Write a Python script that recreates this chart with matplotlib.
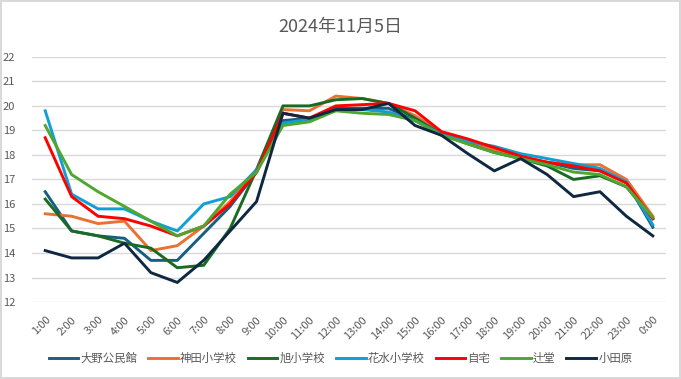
import numpy as np
import matplotlib.pyplot as plt

plt.rcParams['font.family'] = ['Noto Sans CJK JP', 'DejaVu Sans']

hours = [f"{h}:00" for h in range(1, 24)] + ["0:00"]

oono = [16.5, 14.9, 14.7, 14.6, 13.7, 13.7, 14.8, 15.9, 17.3, 19.4, 19.5, 19.9,
        19.9, 19.9, 19.4, 18.85, 18.5, 18.2, 17.9, 17.7, 17.45, 17.35, 16.9, 15.05]
kanda = [15.6, 15.5, 15.2, 15.3, 14.1, 14.3, 15.1, 16.1, 17.4, 19.85, 19.8, 20.4,
         20.3, 20.1, 19.6, 18.9, 18.5, 18.2, 17.9, 17.7, 17.6, 17.6, 17.0, 15.5]
asahi = [16.2, 14.9, 14.7, 14.4, 14.2, 13.4, 13.5, 15.0, 17.4, 20.0, 20.0, 20.25,
         20.3, 20.1, 19.5, 18.85, 18.45, 18.1, 17.85, 17.55, 17.0, 17.15, 16.7, 15.4]
hanamizu = [19.8, 16.4, 15.8, 15.8, 15.3, 14.9, 16.0, 16.3, 17.4, 19.3, 19.45, 19.85,
            19.85, 19.75, 19.4, 18.85, 18.55, 18.35, 18.05, 17.85, 17.65, 17.45, 16.9, 15.15]
jitaku = [18.7, 16.3, 15.5, 15.4, 15.1, 14.7, 15.1, 16.0, 17.3, 19.7, 19.5, 20.0,
          20.05, 20.1, 19.8, 18.95, 18.65, 18.3, 17.95, 17.7, 17.55, 17.35, 16.85, 15.4]
tsujido = [19.2, 17.2, 16.5, 15.9, 15.3, 14.7, 15.1, 16.4, 17.3, 19.2, 19.35, 19.8,
           19.7, 19.65, 19.4, 18.8, 18.45, 18.1, 17.85, 17.6, 17.3, 17.2, 16.7, 15.45]
odawara = [14.1, 13.8, 13.8, 14.4, 13.2, 12.8, 13.7, 14.9, 16.1, 19.7, 19.5, 19.85,
           19.85, 20.1, 19.2, 18.8, 18.05, 17.35, 17.85, 17.2, 16.3, 16.5, 15.5, 14.7]

series = [
    ("大野公民館", oono, "#156082"),
    ("神田小学校", kanda, "#E97132"),
    ("旭小学校", asahi, "#196B24"),
    ("花水小学校", hanamizu, "#0F9ED5"),
    ("自宅", jitaku, "#FF0000"),
    ("辻堂", tsujido, "#4EA72E"),
    ("小田原", odawara, "#0E2841"),
]

txt = "#595959"
fig = plt.figure(figsize=(6.81, 3.79), dpi=100)
fig.patch.set_edgecolor("#D9D9D9")
fig.patch.set_linewidth(1.5)
ax = fig.add_axes([0.047, 0.203, 0.931, 0.647])

x = np.arange(len(hours))
for name, vals, col in series:
    ax.plot(x, vals, color=col, lw=2.1, label=name, solid_joinstyle="round")

ax.set_xlim(-0.5, len(hours) - 0.5)
ax.set_ylim(12, 22)
ax.set_yticks(range(12, 23))
ax.set_xticks(x)
ax.set_xticklabels(hours, rotation=45, ha="right", rotation_mode="anchor")
ax.tick_params(axis="both", length=0, labelsize=8, labelcolor=txt)
ax.tick_params(axis="x", pad=9)
for lab in ax.get_yticklabels():
    lab.set_horizontalalignment("left")
ax.yaxis.set_tick_params(pad=21)
ax.grid(axis="y", color="#D9D9D9", lw=1)
ax.set_axisbelow(True)
for s in ax.spines.values():
    s.set_visible(False)

fig.text(0.5, 0.928, "2024年11月5日", ha="center", va="center", fontsize=13, color=txt)
fig.legend(loc="center", bbox_to_anchor=(0.5, 0.055), ncol=7, frameon=False,
           fontsize=8.2, handlelength=2.6, handletextpad=0.2, columnspacing=0.95,
           labelcolor=txt)

fig.savefig("out.png", dpi=100)
